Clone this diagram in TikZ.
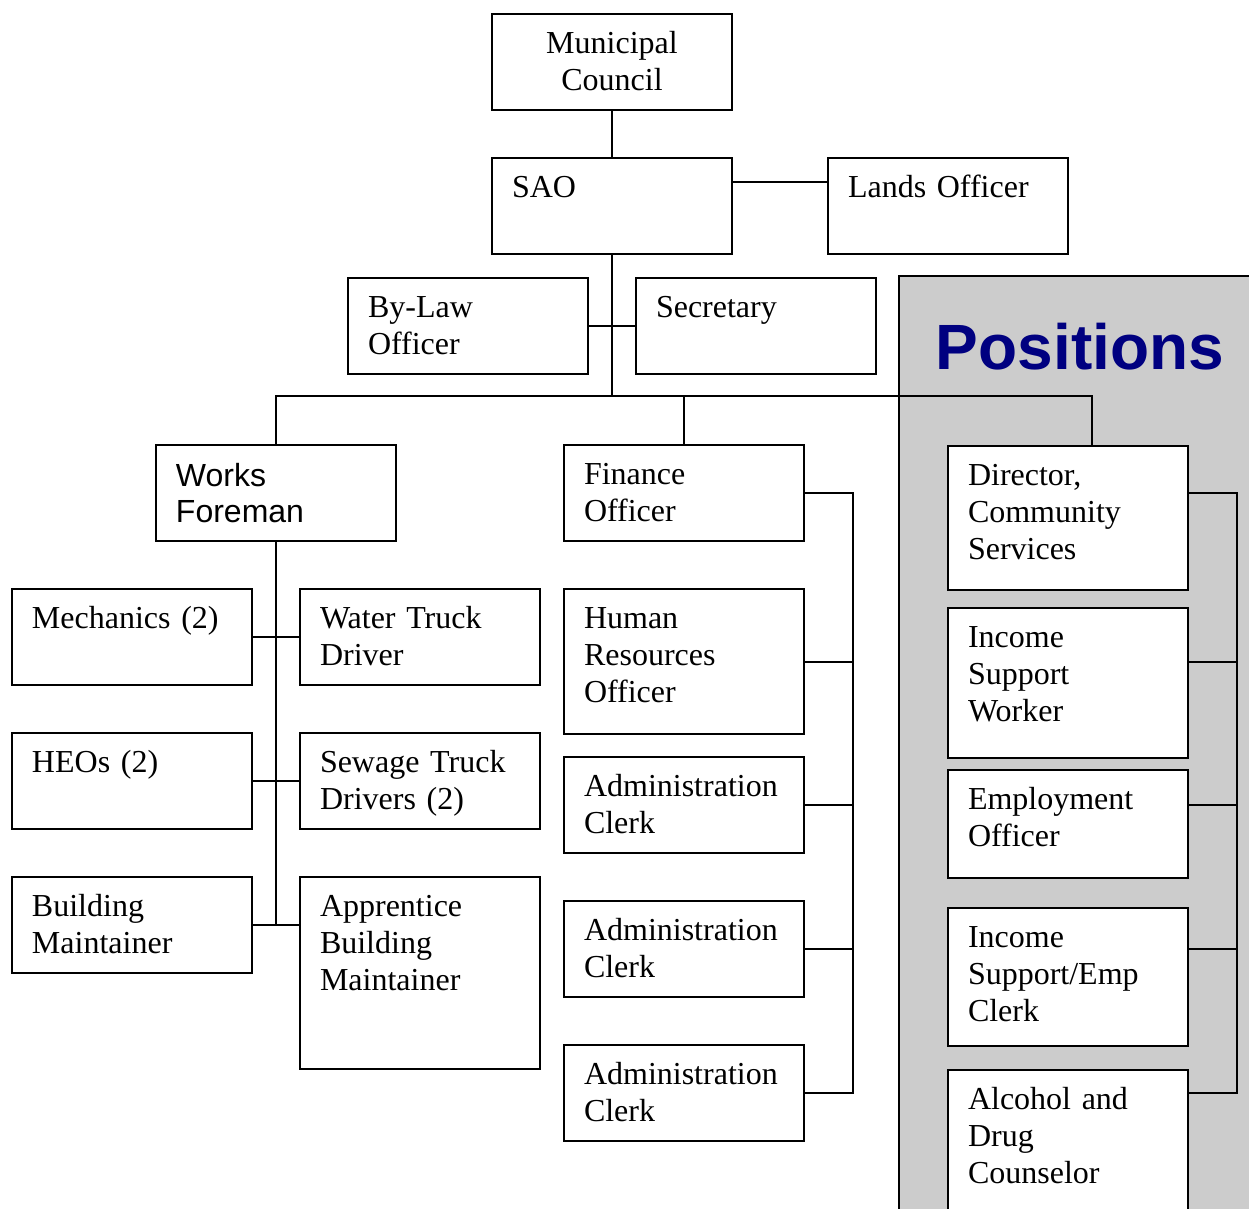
\documentclass[tikz,border=0pt]{standalone}
\usepackage{fontspec}
\setmainfont{Liberation Serif}
\newfontfamily\arialfont{Liberation Sans}
\definecolor{panelgray}{HTML}{CCCCCC}
\definecolor{posnavy}{HTML}{000080}

\begin{document}
\begin{tikzpicture}[x=0.375pt,y=-0.375pt,line width=0.75pt,
    post/.style={draw,fill=white,anchor=north west,inner xsep=7.5pt,inner ysep=0pt,
      text width=75pt,align=left,text height=14.8pt,text depth=21.2pt,
      font=\fontsize{12}{13.9}\selectfont}]
        \useasboundingbox (0,0) rectangle (1249,1209);
        \clip (0,0) rectangle (1249,1209);
        \draw[fill=panelgray] (899,276) rectangle (1260,1220);
        \node[anchor=base,text=posnavy,font=\arialfont\bfseries\fontsize{24}{28}\selectfont] (title) at (1080,370) {Positions};
        % top of the chart
        \node[post,align=center] (mc) at (491,13) {Municipal\\Council};
        \node[post] (sao) at (491,157) {SAO};
        \node[post] (lands) at (827,157) {Lands Officer};
        \node[post] (bylaw) at (347,277) {By-Law\\Officer};
        \node[post] (sec) at (635,277) {Secretary};
        % works
        \node[post,text height=15.6pt,text depth=20.4pt,font=\arialfont\fontsize{12}{13.5}\selectfont] (wf) at (155,444) {Works\\Foreman};
        \node[post] (mech) at (11,588) {Mechanics (2)};
        \node[post] (wtd) at (299,588) {Water Truck\\Driver};
        \node[post] (heo) at (11,732) {HEOs (2)};
        \node[post] (std) at (299,732) {Sewage Truck\\Drivers (2)};
        \node[post] (bm) at (11,876) {Building\\Maintainer};
        \node[post,text depth=57.2pt] (abm) at (299,876) {Apprentice\\Building\\Maintainer};
        % finance
        \node[post] (fin) at (563,444) {Finance\\Officer};
        \node[post,text depth=39.6pt] (hr) at (563,588) {Human\\Resources\\Officer};
        \node[post] (ac1) at (563,756) {Administration\\Clerk};
        \node[post] (ac2) at (563,900) {Administration\\Clerk};
        \node[post] (ac3) at (563,1044) {Administration\\Clerk};
        % community services
        \node[post,text depth=39.2pt] (dir) at (947,445) {Director,\\Community\\Services};
        \node[post,text depth=41.45pt] (isw) at (947,607) {Income\\Support\\Worker};
        \node[post,text depth=25.7pt] (emp) at (947,769) {Employment\\Officer};
        \node[post,text depth=36.95pt] (isc) at (947,907) {Income\\Support/Emp\\Clerk};
        \node[post,text depth=45.2pt] (adc) at (947,1069) {Alcohol and\\Drug\\Counselor};
        % connectors
        \coordinate (bus) at (611,396);
        \draw (mc.south) -- (sao.north);
        \draw ([yshift=9pt]sao.east) -- ([yshift=9pt]lands.west);
        \draw (sao.south) -- (sao.south |- bus);
        \draw (bylaw.east) -- (sec.west);
        \draw (wf.north) -- (wf.north |- bus) -| ([xshift=9pt]dir.north);
        \draw (fin.north) -- (fin.north |- bus);
        \draw (wf.south) -- (wf.south |- bm.east);
        \draw (mech.east) -- (wtd.west);
        \draw (heo.east) -- (std.west);
        \draw (bm.east) -- (abm.west |- bm.east);
        \draw (fin.east) -- ++(48,0) |- (ac3.east);
        \foreach \a in {hr,ac1,ac2} \draw (\a.east) -- ++(48,0);
        \draw (dir.east |- fin.east) -- ++(48,0) |- (adc.east |- ac3.east);
        \foreach \a/\b in {isw/hr,emp/ac1,isc/ac2} \draw (\a.east |- \b.east) -- ++(48,0);
      \end{tikzpicture}
\end{document}
